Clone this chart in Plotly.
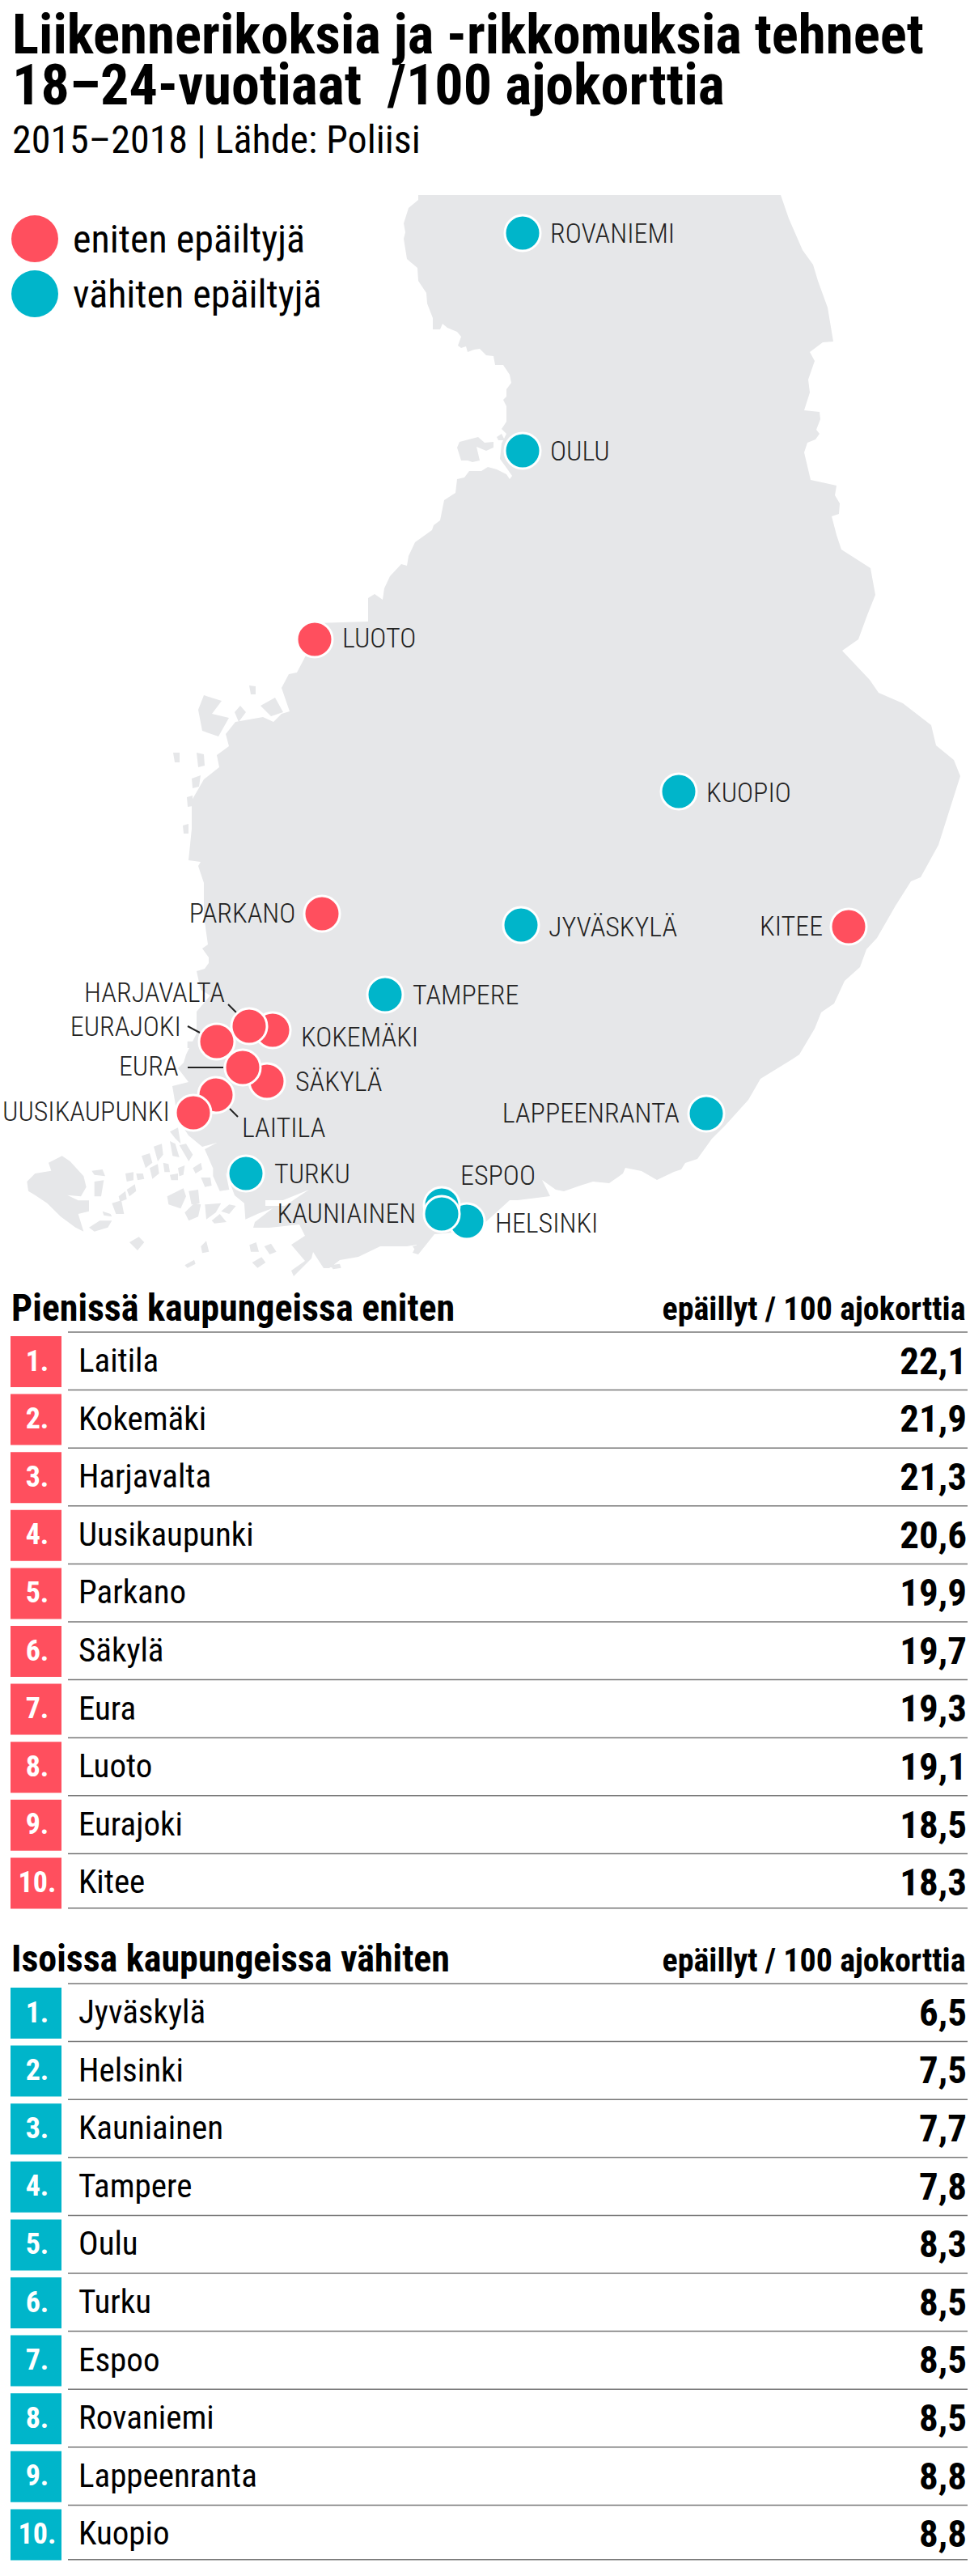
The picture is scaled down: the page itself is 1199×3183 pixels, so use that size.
import plotly.graph_objects as go

W, H = 1199, 3183
FONT = "Roboto"
RED = "#FF4F5E"
TEAL = "#00B5CA"
LAND = "#E6E7E9"

# ----------------------------------------------------------
# Data
# ----------------------------------------------------------

small_towns = ["Laitila", "Kokemäki", "Harjavalta", "Uusikaupunki", "Parkano",
               "Säkylä", "Eura", "Luoto", "Eurajoki", "Kitee"]
small_values = [22.1, 21.9, 21.3, 20.6, 19.9, 19.7, 19.3, 19.1, 18.5, 18.3]

big_towns = ["Jyväskylä", "Helsinki", "Kauniainen", "Tampere", "Oulu",
             "Turku", "Espoo", "Rovaniemi", "Lappeenranta", "Kuopio"]
big_values = [6.5, 7.5, 7.7, 7.8, 8.3, 8.5, 8.5, 8.5, 8.8, 8.8]

# map positions, drawing order matters where the dots overlap
red_names = ["KOKEMÄKI", "HARJAVALTA", "EURAJOKI", "SÄKYLÄ", "LAITILA",
             "UUSIKAUPUNKI", "EURA", "LUOTO", "PARKANO", "KITEE"]
red_x = [337, 308, 268, 330, 267, 239, 300, 389, 398, 1049]
red_y = [1273, 1268, 1287, 1336, 1353, 1375, 1319, 790, 1129, 1145]

teal_names = ["ROVANIEMI", "OULU", "KUOPIO", "JYVÄSKYLÄ", "TAMPERE", "LAPPEENRANTA",
              "TURKU", "HELSINKI", "ESPOO", "KAUNIAINEN"]
teal_x = [646, 646, 839, 644, 476, 873, 304, 577, 546, 546]
teal_y = [288, 557, 978, 1143, 1229, 1376, 1450, 1509, 1489, 1500]

# label: name, x, y, anchor
map_labels = [
    ("ROVANIEMI", 679, 288, "left"), ("OULU", 679, 557, "left"),
    ("LUOTO", 422, 788, "left"), ("KUOPIO", 872, 979, "left"),
    ("PARKANO", 366, 1128, "right"), ("JYVÄSKYLÄ", 677, 1145, "left"),
    ("TAMPERE", 509, 1229, "left"), ("KITEE", 1018, 1144, "right"),
    ("KOKEMÄKI", 371, 1281, "left"), ("SÄKYLÄ", 364, 1336, "left"),
    ("HARJAVALTA", 279, 1226, "right"), ("EURAJOKI", 225, 1268, "right"),
    ("EURA", 222, 1317, "right"), ("UUSIKAUPUNKI", 211, 1373, "right"),
    ("LAITILA", 298, 1393, "left"), ("TURKU", 338, 1450, "left"),
    ("KAUNIAINEN", 515, 1499, "right"), ("ESPOO", 568, 1452, "left"),
    ("HELSINKI", 611, 1511, "left"), ("LAPPEENRANTA", 841, 1375, "right"),
]

leaders = [((282, 1241), (292, 1251)), ((232, 1268), (247, 1276)),
           ((232, 1319), (276, 1319)), ((284, 1370), (294, 1380))]

# Finland outline, clockwise from the north west corner
mainland = [
    (517, 241), (965, 241), (975, 270), (992, 309), (1005, 327), (1011, 347), (1023, 380),
    (1030, 422), (1017, 423), (1001, 435), (1007, 446), (999, 469), (1001, 485), (994, 507),
    (1013, 509), (1014, 518), (1009, 531), (1013, 536), (1008, 543), (998, 547), (994, 559),
    (998, 577), (1002, 593), (1034, 600), (1032, 612), (1038, 622), (1037, 635), (1028, 638),
    (1034, 661), (1040, 679), (1076, 702), (1082, 735), (1072, 760), (1061, 790), (1041, 804),
    (1075, 840), (1086, 856), (1116, 869), (1151, 896), (1157, 921), (1179, 939), (1187, 959),
    (1172, 1005), (1160, 1044), (1138, 1084), (1126, 1089), (1107, 1119), (1084, 1159),
    (1071, 1173), (1063, 1195), (1044, 1212), (1031, 1240), (1015, 1251), (1007, 1271),
    (988, 1303), (979, 1309), (940, 1333), (925, 1359), (897, 1390), (880, 1407), (862, 1432),
    (847, 1437), (842, 1445), (833, 1448), (812, 1458), (793, 1447), (773, 1443), (770, 1450),
    (753, 1462), (733, 1460), (717, 1465), (697, 1472), (687, 1470), (670, 1458), (680, 1478),
    (640, 1483), (630, 1483), (613, 1498), (597, 1513), (560, 1523), (537, 1525), (517, 1550),
    (510, 1548), (515, 1538), (503, 1540), (470, 1540), (443, 1553), (420, 1557), (407, 1567),
    (400, 1567), (387, 1547), (385, 1555), (363, 1577), (360, 1570), (377, 1558), (360, 1538),
    (377, 1527), (370, 1513), (333, 1517), (313, 1517), (315, 1510), (337, 1493), (318, 1500),
    (290, 1477), (280, 1450), (263, 1443), (253, 1420), (268, 1412), (250, 1417), (233, 1403),
    (220, 1383), (213, 1342), (233, 1337), (220, 1320), (227, 1313), (230, 1303), (243, 1277),
    (243, 1250), (260, 1230), (248, 1223), (243, 1200), (253, 1197), (258, 1190), (258, 1183),
    (250, 1172), (257, 1167), (252, 1132), (252, 1091), (245, 1070), (248, 1065), (233, 1063),
    (237, 1024), (237, 989), (252, 963), (271, 948), (268, 933), (283, 922), (279, 907),
    (291, 892), (325, 886), (338, 892), (348, 882), (358, 879), (348, 850), (357, 833),
    (367, 831), (378, 810), (405, 790), (390, 770), (455, 768), (455, 739), (463, 734),
    (473, 741), (475, 727), (482, 712), (496, 697), (503, 699), (505, 687), (513, 670),
    (534, 655), (536, 649), (544, 643), (549, 618), (563, 609), (565, 592), (574, 590),
    (580, 582), (595, 582), (603, 577), (614, 580), (626, 586), (630, 592), (633, 588),
    (626, 578), (618, 567), (620, 548), (626, 536), (620, 530), (626, 521), (626, 502),
    (622, 494), (626, 490), (626, 481), (632, 473), (630, 463), (622, 451), (612, 451),
    (610, 440), (601, 439), (593, 431), (586, 432), (578, 435), (576, 428), (570, 430),
    (566, 427), (570, 416), (565, 410), (553, 405), (547, 400), (544, 407), (535, 407),
    (535, 393), (528, 375), (527, 362), (517, 347), (516, 331), (503, 320), (499, 295),
    (501, 287), (499, 276), (505, 257), (517, 247),
]

# islands north of the archipelago
islands_north = [
    [(565, 553), (568, 546), (591, 540), (599, 547), (610, 546), (610, 553), (601, 557),
     (589, 552), (593, 569), (584, 571), (578, 569), (570, 569)],
    [(614, 540), (620, 536), (624, 544), (616, 544)],
    [(308, 847), (316, 848), (316, 858), (310, 858)],
    [(245, 877), (252, 859), (274, 866), (262, 882), (283, 887), (270, 910), (250, 903)],
    [(290, 880), (297, 872), (304, 880), (295, 892)],
    [(322, 872), (340, 862), (350, 880), (335, 885)],
    [(214, 930), (222, 930), (222, 942), (216, 942)],
    [(243, 930), (252, 932), (253, 946), (245, 948)],
    [(237, 962), (248, 958), (246, 972), (238, 974)],
    [(231, 985), (238, 983), (238, 996), (232, 997)],
    [(226, 1020), (233, 1018), (233, 1030), (227, 1030)],
]

# Aland and the Turku archipelago, traced in a 3x crop starting at (0, 1150)
islands_sw_crop = [
    [(100, 930), (130, 900), (190, 890), (180, 860), (230, 835), (260, 855), (310, 910), (320, 950),
     (300, 985), (250, 980), (290, 1000), (330, 1000), (330, 1040), (290, 1050), (310, 1115),
     (280, 1100), (225, 1060), (175, 1010), (130, 980), (105, 965)],
    [(340, 890), (380, 885), (390, 910), (350, 905)], [(350, 930), (385, 925), (375, 985), (350, 985)],
    [(330, 1100), (370, 1075), (415, 1075), (400, 1100), (350, 1115)],
    [(415, 1010), (450, 1000), (460, 1050), (430, 1050)], [(380, 1040), (410, 1050), (415, 1060), (385, 1055)],
    [(440, 985), (465, 965), (470, 995), (445, 1005)], [(470, 960), (500, 940), (505, 965), (480, 985)],
    [(465, 900), (495, 895), (495, 925), (470, 930)], [(505, 900), (530, 900), (535, 920), (510, 925)],
    [(525, 835), (555, 825), (565, 860), (540, 880)], [(555, 880), (585, 865), (590, 900), (565, 920)],
    [(570, 800), (600, 790), (605, 830), (585, 855)], [(630, 780), (650, 790), (665, 840), (640, 835)],
    [(605, 860), (625, 865), (630, 895), (610, 895)], [(630, 905), (660, 900), (660, 925), (635, 925)],
    [(660, 880), (685, 870), (680, 905), (665, 910)], [(665, 795), (690, 790), (715, 830), (700, 855)],
    [(630, 745), (660, 730), (670, 790), (650, 770)], [(715, 880), (745, 860), (750, 885), (725, 900)],
    [(745, 915), (780, 915), (785, 945), (760, 950)], [(790, 860), (830, 860), (850, 960), (815, 965), (790, 910)],
    [(620, 985), (680, 955), (690, 985), (670, 1030), (625, 1015)], [(700, 965), (735, 960), (740, 1010), (710, 1015)],
    [(685, 1045), (720, 1010), (745, 1015), (735, 1060), (700, 1075)], [(760, 1015), (820, 1010), (800, 1045), (765, 1070)],
    [(820, 1040), (850, 1015), (875, 1020), (850, 1050)], [(785, 1075), (815, 1050), (840, 1080), (795, 1085)],
    [(480, 1155), (515, 1135), (535, 1155), (510, 1185)], [(745, 1170), (765, 1150), (775, 1190), (750, 1195)],
    [(685, 1240), (720, 1220), (725, 1235), (695, 1250)], [(925, 1165), (950, 1155), (960, 1190), (930, 1190)],
    [(980, 1170), (1005, 1160), (1025, 1190), (1000, 1200)], [(935, 1230), (970, 1210), (985, 1230), (955, 1250)],
    [(1225, 1240), (1260, 1235), (1265, 1250), (1235, 1255)], [(695, 410), (715, 410), (715, 435), (695, 435)],
    [(905, 1000), (960, 1000), (955, 1050), (910, 1070)],
    [(1530, 1170), (1550, 1165), (1560, 1180), (1540, 1185)],
]

inlet = [(382, 1470), (350, 1483), (328, 1483), (328, 1490), (352, 1490)]

table_header_small = "Pienissä kaupungeissa eniten"
table_header_big = "Isoissa kaupungeissa vähiten"
value_header = "epäillyt / 100 ajokorttia"


# ----------------------------------------------------------
# Helpers
# ----------------------------------------------------------

def polygons(polys):
    xs, ys = [], []
    for poly in polys:
        xs += [p[0] for p in poly] + [poly[0][0], None]
        ys += [p[1] for p in poly] + [poly[0][1], None]
    return xs, ys


def label(text, x, y, anchor, size, color="#000", weight=400, xref="x", yref="y"):
    return dict(text=text, x=x, y=y, xref=xref, yref=yref, xanchor=anchor, yanchor="middle",
                showarrow=False, align=anchor, borderpad=0,
                font=dict(family=FONT, size=size, color=color, weight=weight))


def paper_label(text, x, px, anchor, size, weight=400):
    return label(text, x, 1 - px / H, anchor, size, weight=weight, yref="paper")


def rank_range(top, bottom, first_centre, pitch):
    return [1 + (bottom - first_centre) / pitch, 1 + (top - first_centre) / pitch]


fig = go.Figure()

# ----------------------------------------------------------
# Map
# ----------------------------------------------------------

sw_islands = [[(x / 3, 1150 + y / 3) for x, y in poly] for poly in islands_sw_crop]
land_x, land_y = polygons([mainland] + islands_north + sw_islands)
fig.add_trace(go.Scatter(x=land_x, y=land_y, mode="lines", fill="toself", fillcolor=LAND,
                         line=dict(width=0), hoverinfo="skip"))
inlet_x, inlet_y = polygons([inlet])
fig.add_trace(go.Scatter(x=inlet_x, y=inlet_y, mode="lines", fill="toself", fillcolor="#FFFFFF",
                         line=dict(width=0), hoverinfo="skip"))

lead_x, lead_y = [], []
for start, end in leaders:
    lead_x += [start[0], end[0], None]
    lead_y += [start[1], end[1], None]
fig.add_trace(go.Scatter(x=lead_x, y=lead_y, mode="lines", line=dict(color="#222222", width=2),
                         hoverinfo="skip"))

for names, xs, ys, color in [(red_names, red_x, red_y, RED), (teal_names, teal_x, teal_y, TEAL)]:
    fig.add_trace(go.Scatter(x=xs, y=ys, mode="markers", text=names, hoverinfo="text",
                             marker=dict(size=44, color=color, line=dict(color="#FFFFFF", width=3))))

# legend dots
fig.add_trace(go.Scatter(x=[43, 43], y=[295, 363], mode="markers", hoverinfo="skip",
                         marker=dict(size=58, color=[RED, TEAL], line=dict(width=0))))

annotations = [
    paper_label("Liikennerikoksia ja -rikkomuksia tehneet", 14, 42, "left", 69, 700),
    paper_label("18–24-vuotiaat\u2002/100 ajokorttia", 14, 105, "left", 70, 700),
    paper_label("2015–2018 | Lähde: Poliisi", 14, 172, "left", 48),
    label("eniten epäiltyjä", 89, 295, "left", 48),
    label("vähiten epäiltyjä", 89, 363, "left", 48),
]
for text, x, y, anchor in map_labels:
    annotations.append(label(text, x, y, anchor, 34, color="#222222", weight=300))

# ----------------------------------------------------------
# Tables
# ----------------------------------------------------------

tables = [
    ("x2", "y2", small_towns, small_values, RED, table_header_small, 1631),
    ("x3", "y3", big_towns, big_values, TEAL, table_header_big, 2435),
]
PITCH = 71.6
SMALL_CENTRE, BIG_CENTRE = 1682.5, 2487.5
for xa, ya, towns, values, color, header, header_px in tables:
    ranks = list(range(1, len(towns) + 1))
    fig.add_trace(go.Scatter(x=[44.5] * len(ranks), y=ranks, mode="markers", xaxis=xa, yaxis=ya,
                             hoverinfo="skip", marker=dict(symbol="square", size=63, color=color, line=dict(width=0))))
    rule_y = []
    rule_x = []
    for r in [ranks[0] - 1] + ranks:
        pos = r + 0.49 if r < ranks[-1] else r + 0.43
        rule_x += [84, 1196, None]
        rule_y += [pos, pos, None]
    fig.add_trace(go.Scatter(x=rule_x, y=rule_y, mode="lines", xaxis=xa, yaxis=ya, hoverinfo="skip",
                             line=dict(color="#777777", width=1.5)))
    # text sits a little under the square's centre in the reference
    fig.add_trace(go.Scatter(x=[46] * len(ranks), y=[r + 0.03 for r in ranks], mode="text", xaxis=xa, yaxis=ya,
                             hoverinfo="skip", text=[f"{r}." for r in ranks], textposition="middle center",
                             textfont=dict(family=FONT, size=36, color="#FFFFFF", weight=700)))
    fig.add_trace(go.Scatter(x=[97] * len(ranks), y=[r + 0.03 for r in ranks], mode="text", xaxis=xa, yaxis=ya,
                             hoverinfo="skip", text=towns, textposition="middle right",
                             textfont=dict(family=FONT, size=41, color="#000000")))
    fig.add_trace(go.Scatter(x=[1195] * len(ranks), y=[r + 0.05 for r in ranks], mode="text", xaxis=xa, yaxis=ya,
                             hoverinfo="skip", text=[f"{v:.1f}".replace(".", ",") for v in values],
                             textposition="middle left",
                             textfont=dict(family=FONT, size=47, color="#000000", weight=700)))
    annotations.append(paper_label(header, 13, header_px - 15, "left", 46, 700))
    annotations.append(paper_label(value_header, 1194, header_px - 13, "right", 40, 700))

axis = dict(visible=False, fixedrange=True)
fig.update_layout(
    width=W, height=H, margin=dict(l=0, r=0, t=0, b=0), autosize=False,
    paper_bgcolor="#FFFFFF", plot_bgcolor="#FFFFFF", showlegend=False,
    annotations=annotations,
    xaxis=dict(range=[0, W], domain=[0, 1], **axis),
    yaxis=dict(range=[1600, 0], domain=[1 - 1600 / H, 1], **axis),
    xaxis2=dict(range=[0, W], domain=[0, 1], anchor="y2", **axis),
    yaxis2=dict(range=rank_range(1600, 2400, SMALL_CENTRE, PITCH), domain=[1 - 2400 / H, 1 - 1600 / H], anchor="x2", **axis),
    xaxis3=dict(range=[0, W], domain=[0, 1], anchor="y3", **axis),
    yaxis3=dict(range=rank_range(2400, H, BIG_CENTRE, PITCH), domain=[0, 1 - 2400 / H], anchor="x3", **axis),
)

# Roboto has a width axis, the reference uses its condensed cut
post = """
document.body.style.margin = '0';
var s = document.createElement('style');
s.textContent = 'text {font-stretch: 75%}';
document.head.appendChild(s);
var gd = document.getElementById('{plot_id}');
document.fonts.ready.then(function () { Plotly.redraw(gd); });
"""
fig.write_html("out.html", post_script=post, config={"displayModeBar": False})
